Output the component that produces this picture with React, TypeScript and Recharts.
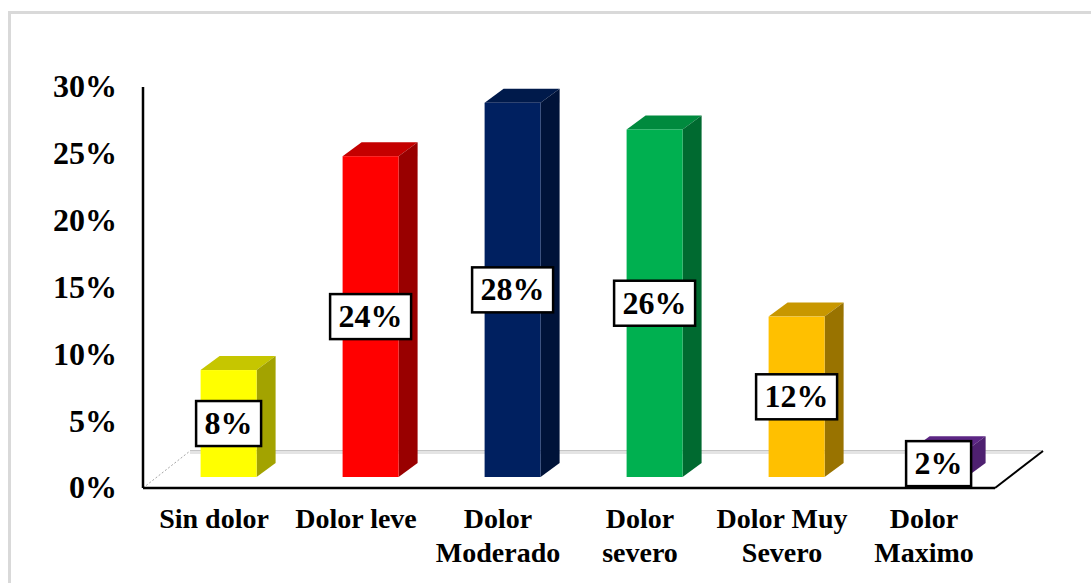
import React from 'react'
import { BarChart, Bar, XAxis, YAxis, LabelList } from 'recharts'

const categories = ['Sin dolor', 'Dolor leve', 'Dolor Moderado', 'Dolor severo', 'Dolor Muy Severo', 'Dolor Maximo']
const values = [8, 24, 28, 26, 12, 2]
const yTicks = [0, 5, 10, 15, 20, 25, 30]
const frontColors = ['#ffff00', '#ff0000', '#002060', '#00b050', '#ffc000', '#7030a0']
const sideColors = ['#a3a300', '#990000', '#001339', '#006a30', '#997300', '#4e2070']
const topColors = ['#c6c600', '#c40000', '#001a4b', '#008a3e', '#c89700', '#5c2684']

const data = categories.map((name, i) => ({ name, value: values[i], index: i }))

const FONT = '"Liberation Serif", "Times New Roman", serif'
const W = 1091
const H = 583
const LEFT = 143
const RIGHT = 995
const TOP = 87
const BOTTOM = 488
// the 3D look: bars stand further back on the floor than the axis line
const SHIFT_X = 14.6
const SHIFT_Y = -11
const DEPTH_X = 19
const DEPTH_Y = 14

function Floor() {
  return (
    <g>
      <line x1={190} y1={450.5} x2={1043} y2={450.5} stroke="#c4c4c4" strokeWidth={1} />
      <line x1={190} y1={452.5} x2={1040} y2={452.5} stroke="#e4e4e4" strokeWidth={3} />
      <line x1={LEFT} y1={BOTTOM} x2={190} y2={451} stroke="#a6a6a6" strokeWidth={1} strokeDasharray="2 2" />
      <line x1={RIGHT} y1={BOTTOM} x2={1043} y2={451} stroke="#000" strokeWidth={2} />
    </g>
  )
}

function Bar3D(props: any) {
  const { x, y, width, height, index } = props
  const fx = x + SHIFT_X
  const fy = y + SHIFT_Y
  const r = fx + width
  const b = fy + height
  return (
    <g>
      <polygon
        points={`${fx},${fy} ${fx + DEPTH_X},${fy - DEPTH_Y} ${r + DEPTH_X},${fy - DEPTH_Y} ${r},${fy}`}
        fill={topColors[index]}
      />
      <polygon
        points={`${r},${fy} ${r + DEPTH_X},${fy - DEPTH_Y} ${r + DEPTH_X},${b - DEPTH_Y} ${r},${b}`}
        fill={sideColors[index]}
      />
      <rect x={fx} y={fy} width={width} height={height} fill={frontColors[index]} />
    </g>
  )
}

function ValueBox(props: any) {
  const { x, y, width, height, value } = props
  const cx = x + width / 2 + SHIFT_X
  const cy = y + height / 2 + SHIFT_Y
  const boxW = value >= 10 ? 81 : 65
  return (
    <g>
      <rect x={cx - boxW / 2} y={cy - 22.5} width={boxW} height={45} fill="#fff" stroke="#000" strokeWidth={2.5} />
      <text x={cx} y={cy + 10.5} textAnchor="middle" fontFamily={FONT} fontWeight="bold" fontSize={32} fill="#000">
        {value}%
      </text>
    </g>
  )
}

function splitLabel(label: string) {
  if (label.length <= 10) return [label]
  const at = label.lastIndexOf(' ')
  return [label.slice(0, at), label.slice(at + 1)]
}

function CategoryTick(props: any) {
  const { x, y, payload } = props
  return (
    <text x={x} textAnchor="middle" fontFamily={FONT} fontWeight="bold" fontSize={28} fill="#000">
      {splitLabel(payload.value).map((line, i) => (
        <tspan key={line} x={x} y={y + 38 + i * 34}>
          {line}
        </tspan>
      ))}
    </text>
  )
}

export default function App() {
  return (
    <div style={{ position: 'absolute', left: 0, top: 0, width: W, height: H, background: '#fff', overflow: 'hidden' }}>
      <div
        style={{
          position: 'absolute',
          left: 8,
          top: 11,
          width: 1200,
          height: 800,
          border: '3px solid #d9d9d9',
          boxSizing: 'border-box',
        }}
      />
      <BarChart
        width={W}
        height={H}
        data={data}
        margin={{ top: TOP, right: W - RIGHT, bottom: 5, left: 73 }}
        barSize={56}
        style={{ position: 'absolute', left: 0, top: 0 }}
      >
        <Floor />
        <YAxis
          type="number"
          domain={[0, 30]}
          ticks={yTicks}
          width={70}
          tickFormatter={(v: number) => `${v}%`}
          tickLine={false}
          tickSize={0}
          tickMargin={26}
          axisLine={{ stroke: '#000', strokeWidth: 2.5 }}
          tick={{ fontFamily: FONT, fontWeight: 'bold', fontSize: 32, fill: '#000', dy: -1 }}
          interval={0}
        />
        <XAxis
          dataKey="name"
          height={H - BOTTOM - 5}
          interval={0}
          tickLine={false}
          tickSize={0}
          axisLine={{ stroke: '#000', strokeWidth: 2.5 }}
          tick={<CategoryTick />}
        />
        <Bar dataKey="value" shape={<Bar3D />} isAnimationActive={false}>
          <LabelList dataKey="value" content={<ValueBox />} />
        </Bar>
      </BarChart>
    </div>
  )
}
